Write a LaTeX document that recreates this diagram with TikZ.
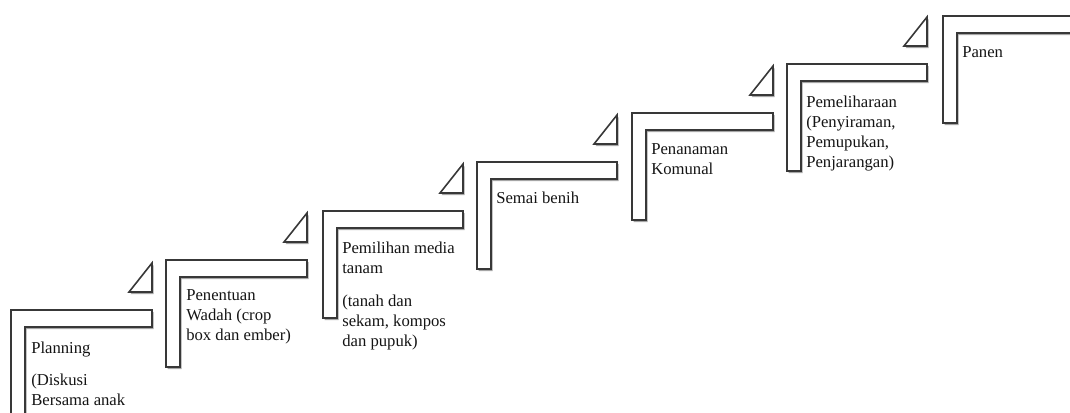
\documentclass[tikz,border=0pt]{standalone}
\usepackage{fontspec}
\setmainfont{Liberation Serif}
\usetikzlibrary{shadows}

\tikzset{
  stairpath/.style={draw=black!78, line width=1.2pt, fill=white, line join=miter,
    drop shadow={shadow xshift=1.3pt, shadow yshift=-1.5pt, opacity=0.35, fill=black}},
  stairtri/.style={stairpath},
  stairtext/.style={anchor=north west, inner sep=0pt, align=left, text=black!92,
    font=\fontsize{12.5}{15}\selectfont}
}

\begin{document}
\begin{tikzpicture}[x=0.75pt,y=-0.75pt]
\useasboundingbox (0,0) rectangle (1070,412);
\clip (0,0) rectangle (1070,412);

\foreach \x/\y/\r in {11/310/152, 166/260/307, 323/211/463, 477/162/617,
                      632/113/773, 787/64/927, 943/16/1085}{
  \draw[stairpath] (\x,\y+107) -- (\x,\y) -- (\r,\y) -- (\r,\y+17)
    -- (\x+14,\y+17) -- (\x+14,\y+107) -- cycle;
}

\foreach \r/\y in {152/310, 307/260, 463/211, 617/162, 773/113, 927/64}{
  \draw[stairtri] (\r-23,\y-18) -- (\r,\y-18) -- (\r,\y-47) -- cycle;
}

\node[stairtext] (planning) at (31,341.5) {Planning\\[9pt](Diskusi\\Bersama anak};
\node[stairtext] (wadah) at (186,289.5) {Penentuan\\Wadah (crop\\box dan ember)};
\node[stairtext] (media) at (342,241.5) {Pemilihan media\\tanam\\[10pt](tanah dan\\sekam, kompos\\dan pupuk)};
\node[stairtext] (semai) at (496,191.5) {Semai benih};
\node[stairtext] (penanaman) at (651,143.5) {Penanaman\\Komunal};
\node[stairtext] (pemeliharaan) at (806,95.5) {Pemeliharaan\\(Penyiraman,\\Pemupukan,\\Penjarangan)};
\node[stairtext] (panen) at (962,46.5) {Panen};

\end{tikzpicture}
\end{document}
